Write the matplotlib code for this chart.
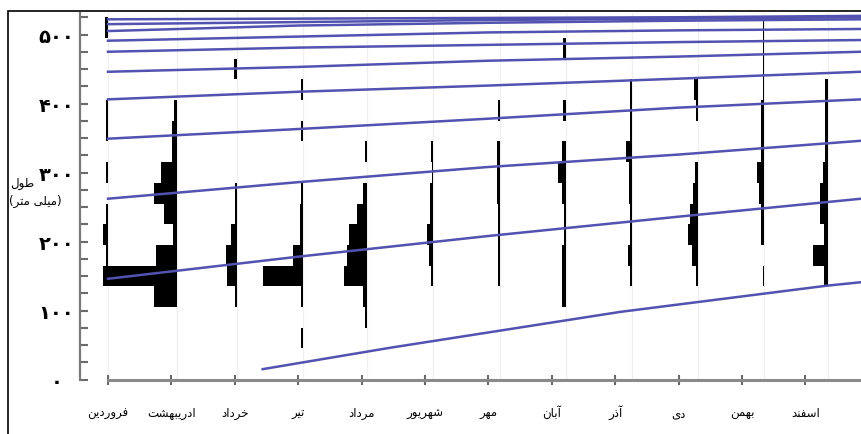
import matplotlib
matplotlib.use("Agg")
import matplotlib.pyplot as plt
from matplotlib.patches import Rectangle
from matplotlib.ticker import MultipleLocator

# ---------------- data ----------------
months = ["فروردین", "ادریبهشت", "خرداد", "تیر", "مرداد", "شهریور",
          "مهر", "آبان", "آذر", "دی", "بهمن", "اسفند"]
y_ticks = [0, 100, 200, 300, 400, 500]
y_tick_labels = ["۰", "۱۰۰", "۲۰۰", "۳۰۰", "۴۰۰", "۵۰۰"]
y_title = ["طول", "(میلی متر)"]

# sampling dates, in months from the start of the year
sample_x = [0, 1.09, 2.03, 3.08, 4.09, 5.13, 6.18, 7.22, 8.27, 9.31, 10.35, 11.36]

# length classes (mm), 30 mm wide
length_bins = [60, 90, 120, 150, 180, 210, 240, 270, 300, 330, 360, 390, 420, 450, 480, 510]

# restructured frequencies per sample (one value per length class)
freq_farvardin   = [0, 0, 0, 2, 2, 7, 2, 0, 2, 0, 2, 2, 0, 0, 0, 3]
freq_ordibehesht = [0, 0, 23, 80, 21, 4.5, 13, 23, 16, 5, 5, 3, 0, 0, 0, 0]
freq_khordad     = [0, 0, 2, 10, 11, 6, 2, 2, 0, 0, 0, 0, 0, 2.5, 0, 0]
freq_tir         = [2, 0, 2, 40, 10, 3.5, 3, 2, 0, 0, 2, 0, 2, 0, 0, 0]
freq_mordad      = [0, 2, 4, 23, 20, 18, 10, 4.5, 0, 2.5, 0, 0, 0, 0, 0, 0]
freq_shahrivar   = [0, 0, 0, 2, 4, 6.5, 3, 3, 1.5, 2, 0, 0, 0, 0, 0, 0]
freq_mehr        = [0, 0, 0, 1.5, 1.5, 1.5, 1.5, 3, 3, 2.5, 0, 1.5, 0, 0, 0, 0]
freq_aban        = [0, 0, 4, 4, 4, 2, 2, 4, 8, 4, 0, 3, 0, 0, 3, 0]
freq_azar        = [0, 0, 0, 2, 4.5, 2, 2, 3, 3, 6, 2, 2, 2, 0, 0, 0]
freq_dey         = [0, 0, 0, 2, 6, 10, 8, 5, 3, 0, 0, 2, 4, 0, 0, 0]
freq_bahman      = [0, 0, 0, 1.5, 0, 3, 3, 5, 7, 3, 3, 3, 1.5, 1.5, 1.5, 1.5]
freq_esfand      = [0, 0, 0, 4, 15, 4, 8, 8, 5, 3, 3, 3, 3, 0, 0, 0]

# growth curves (length in mm) read at t = 0, 3, 6, 9, 11.88 months
curve_t = [0, 3, 6, 9, 11.88]
cohort_0_t = [2.44, 4.45, 8.08, 11.34, 11.88]
cohort_0 = [15, 46, 98, 136, 141]
cohort_1 = [146, 178, 208, 236, 262]
cohort_2 = [262, 286, 308, 326, 346]
cohort_3 = [349, 363, 378, 394, 406]
cohort_4 = [406, 417, 426, 436, 446]
cohort_5 = [446, 453, 462, 468, 475]
cohort_6 = [475, 481, 485, 489, 492]
cohort_7 = [491, 497, 503, 506, 508]
cohort_8 = [505, 513, 517, 520, 522]
cohort_9 = [515, 518, 521, 523, 525]
cohort_10 = [522, 523, 524, 525, 527]


# matplotlib has no arabic shaping -> pick contextual forms by hand
FORMS = {
    "ا": ("\uFE8D", "\uFE8E", None, None),
    "آ": ("\uFE81", "\uFE82", None, None),
    "ب": ("\uFE8F", "\uFE90", "\uFE91", "\uFE92"),
    "ت": ("\uFE95", "\uFE96", "\uFE97", "\uFE98"),
    "خ": ("\uFEA5", "\uFEA6", "\uFEA7", "\uFEA8"),
    "د": ("\uFEA9", "\uFEAA", None, None),
    "ذ": ("\uFEAB", "\uFEAC", None, None),
    "ر": ("\uFEAD", "\uFEAE", None, None),
    "س": ("\uFEB1", "\uFEB2", "\uFEB3", "\uFEB4"),
    "ش": ("\uFEB5", "\uFEB6", "\uFEB7", "\uFEB8"),
    "ط": ("\uFEC1", "\uFEC2", "\uFEC3", "\uFEC4"),
    "ف": ("\uFED1", "\uFED2", "\uFED3", "\uFED4"),
    "ل": ("\uFEDD", "\uFEDE", "\uFEDF", "\uFEE0"),
    "م": ("\uFEE1", "\uFEE2", "\uFEE3", "\uFEE4"),
    "ن": ("\uFEE5", "\uFEE6", "\uFEE7", "\uFEE8"),
    "ه": ("\uFEE9", "\uFEEA", "\uFEEB", "\uFEEC"),
    "و": ("\uFEED", "\uFEEE", None, None),
    "ی": ("\uFBFC", "\uFBFD", "\uFBFE", "\uFBFF"),
}


def fa(text):
    out = []
    for i, c in enumerate(text):
        if c not in FORMS:
            out.append(c)
            continue
        iso, fin, ini, med = FORMS[c]
        prev = text[i - 1] if i > 0 else ""
        nxt = text[i + 1] if i + 1 < len(text) else ""
        jp = prev in FORMS and FORMS[prev][2] is not None
        jn = ini is not None and nxt in FORMS
        if jp and jn:
            out.append(med)
        elif jp:
            out.append(fin)
        elif jn:
            out.append(ini)
        else:
            out.append(iso)
    return "".join(reversed(out)).translate(str.maketrans("()", ")("))


PX = 63.4  # pixels per month
MM = 0.69  # pixels per mm

fig = plt.figure(figsize=(8.61, 4.35), dpi=100)
ax = fig.add_axes([103 / 861, 54.5 / 435, 758 / 861, 366.5 / 435])
ax.set_xlim(-5 / PX, 753 / PX)
ax.set_ylim(0, 366.5 / MM)

for s in ["top", "right"]:
    ax.spines[s].set_visible(False)
ax.spines["left"].set_position(("outward", 23 * 0.72))
ax.spines["left"].set_color("#7a7a7a")
ax.spines["left"].set_linewidth(1.6)
ax.spines["bottom"].set_color("#8a8a8a")
ax.spines["bottom"].set_linewidth(2.2)
ax.spines["bottom"].set_bounds(0, 753 / PX)

# faint lines at sampling dates
for x in sample_x:
    ax.axvline(x, color="#f0f0f0", lw=1, zorder=0)

# histograms, bars extend to the left of the sampling date
samples = [freq_farvardin, freq_ordibehesht, freq_khordad, freq_tir, freq_mordad,
           freq_shahrivar, freq_mehr, freq_aban, freq_azar, freq_dey, freq_bahman, freq_esfand]
for x, freq in zip(sample_x, samples):
    w = [f / PX for f in freq]
    ax.barh(length_bins, w, left=[x - v for v in w], height=30,
            color="black", linewidth=0, zorder=2)

# growth curves
blue = "#5252b0"
ax.plot(cohort_0_t, cohort_0, color=blue, lw=1.8, zorder=3, clip_on=False)
for c in [cohort_1, cohort_2, cohort_3, cohort_4, cohort_5, cohort_6,
          cohort_7, cohort_8, cohort_9, cohort_10]:
    ax.plot(curve_t, c, color=blue, lw=1.8, zorder=3, clip_on=False)

# axes ticks
ax.set_xticks(range(len(months)))
ax.set_xticklabels([fa(m) for m in months], fontsize=8.5, family="DejaVu Sans")
ax.tick_params(axis="x", direction="inout", length=7, width=1.5,
               color="#6a6a6a", pad=23)
for lab in ax.get_xticklabels():
    lab.set_verticalalignment("baseline")

ax.set_yticks(y_ticks)
ax.set_yticklabels(y_tick_labels, fontsize=14, fontweight="bold", family="DejaVu Sans")
ax.yaxis.set_minor_locator(MultipleLocator(25))
ax.tick_params(axis="y", which="both", direction="in", length=6, width=1.5,
               color="#6a6a6a", pad=17)
for lab in ax.get_yticklabels():
    lab.set_horizontalalignment("center")

fig.text(10 / 861, 1 - 184 / 435, fa(y_title[0]), fontsize=8.5, ha="left", va="center")
fig.text(9 / 861, 1 - 201 / 435, fa(y_title[1]), fontsize=8.5, ha="left", va="center")

# outer frame
fig.add_artist(Rectangle((8 / 861, -0.1), 1.2, 1 - 12 / 435 + 0.1,
                         transform=fig.transFigure, fill=False, lw=1.2, ec="black"))

fig.savefig("out.png", dpi=100)
